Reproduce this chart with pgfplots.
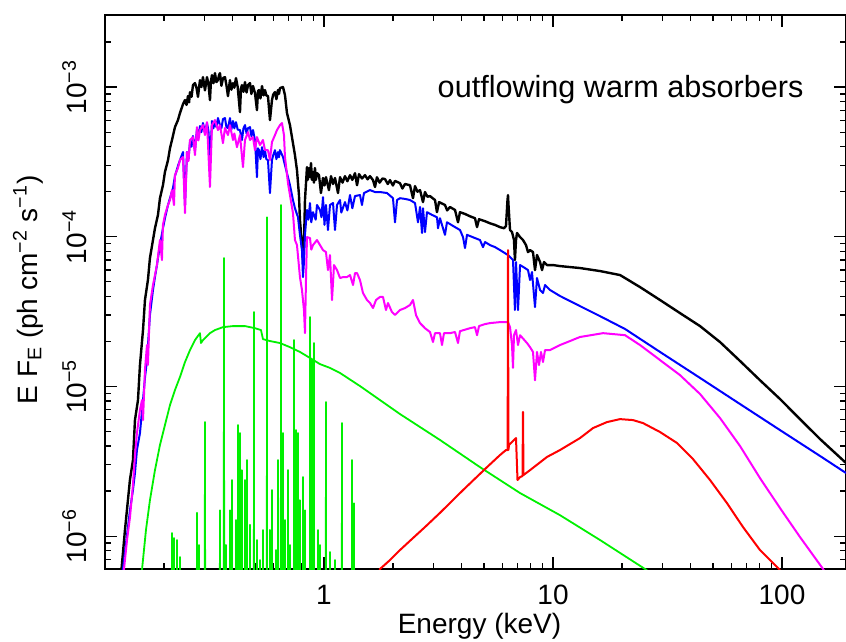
\documentclass[border=0pt]{standalone}
\usepackage{fontspec}
\setmainfont{Liberation Sans}
\usepackage{pgfplots}
\pgfplotsset{compat=1.18}
\usetikzlibrary{calc}
\definecolor{xgreen}{RGB}{0,240,0}
\definecolor{xblue}{RGB}{0,0,255}
\definecolor{xmag}{RGB}{255,0,255}
\definecolor{xred}{RGB}{255,0,0}
\begin{document}
\fontsize{14}{17}\selectfont
\begin{tikzpicture}
\begin{axis}[
 name=ax, at={(0,0)}, anchor=south west,
 scale only axis, width=370.5pt, height=277pt,
 xmode=log, ymode=log,
 xmin=0.1106, xmax=190.3, ymin=6.03e-7, ymax=3.03e-3,
 xtick={1,10,100}, xticklabels={1,10,100},
 ytick={1e-6,1e-5,1e-4,1e-3},
 yticklabels={10\textsuperscript{−6},10\textsuperscript{−5},10\textsuperscript{−4},10\textsuperscript{−3}},
 minor xtick={0.2,0.3,0.4,0.5,0.6,0.7,0.8,0.9,2,3,4,5,6,7,8,9,20,30,40,50,60,70,80,90},
 minor ytick={7e-7,8e-7,9e-7,2e-6,3e-6,4e-6,5e-6,6e-6,7e-6,8e-6,9e-6,2e-5,3e-5,4e-5,5e-5,6e-5,7e-5,8e-5,9e-5,2e-4,3e-4,4e-4,5e-4,6e-4,7e-4,8e-4,9e-4,2e-3,3e-3},
 tick align=inside, major tick length=6pt, minor tick length=3pt,
 tick style={line width=0.6pt, black},
 axis line style={line width=0.7pt},
 xticklabel shift=8pt,
 yticklabel shift=9pt,
 xticklabel style={inner sep=0pt, anchor=north},
 yticklabel style={inner sep=0pt, rotate=90, anchor=south},
 every axis plot/.append style={line join=round},
]
% black: total model
\addplot[black, line width=1.2pt] coordinates {
(0.1248,2.75e-7)(0.1352,1.10e-6)(0.1421,2.37e-6)(0.1465,3.22e-6)(0.1495,5.96e-6)(0.1541,8.11e-6)(0.1572,1.39e-5)(0.1621,2.38e-5)(0.1653,3.78e-5)(0.1703,5.14e-5)(0.1738,7.21e-5)(0.1792,9.51e-5)(0.1828,1.14e-4)(0.1884,1.40e-4)(0.1922,1.81e-4)(0.1981,2.21e-4)(0.2021,2.71e-4)(0.2084,3.25e-4)(0.2126,3.91e-4)(0.2169,4.43e-4)(0.2235,5.40e-4)(0.2303,6.02e-4)(0.2350,6.70e-4)(0.2423,7.70e-4)(0.2472,8.19e-4)(0.2510,7.6e-4)(0.2547,8.71e-4)(0.2575,7.9e-4)(0.2600,9.26e-4)(0.2640,8.6e-4)(0.2679,1.03e-3)(0.2733,1.063e-3)(0.2775,9.9e-4)(0.2817,8.6e-4)(0.2874,1.113e-3)(0.2915,1.0e-3)(0.2962,1.166e-3)(0.3022,9.5e-4)(0.3084,1.166e-3)(0.3130,1.05e-3)(0.3178,8.19e-4)(0.3210,1.10e-3)(0.3243,1.202e-3)(0.3290,1.06e-3)(0.3342,1.240e-3)(0.3390,1.08e-3)(0.3444,1.113e-3)(0.3480,1.20e-3)(0.3514,1.240e-3)(0.3565,1.02e-3)(0.3622,1.148e-3)(0.3695,1.166e-3)(0.3750,1.03e-3)(0.3809,8.7e-4)(0.3886,1.113e-3)(0.3940,9.6e-4)(0.4005,1.063e-3)(0.4060,9.9e-4)(0.4128,1.148e-3)(0.4200,1.0e-3)(0.4297,6.81e-4)(0.4340,9.8e-4)(0.4384,1.031e-3)(0.4450,9.3e-4)(0.4519,1.080e-3)(0.4590,9.2e-4)(0.4658,1.031e-3)(0.4752,1.063e-3)(0.4820,9.0e-4)(0.4898,1.016e-3)(0.4996,9.12e-4)(0.5097,7.02e-4)(0.5150,9.4e-4)(0.5201,9.55e-4)(0.5280,8.4e-4)(0.5362,1.016e-3)(0.5450,8.8e-4)(0.5525,9.55e-4)(0.5600,8.8e-4)(0.5694,8.71e-4)(0.5809,6.02e-4)(0.5927,8.19e-4)(0.6000,8.9e-4)(0.6109,9.26e-4)(0.6200,8.3e-4)(0.6296,9.55e-4)(0.6360,9.0e-4)(0.6424,9.85e-4)(0.6622,1.0e-3)(0.6755,8.84e-4)(0.6894,6.70e-4)(0.7103,5.57e-4)(0.7321,4.22e-4)(0.7469,3.51e-4)(0.7622,2.79e-4)(0.7777,1.90e-4)(0.7854,1.29e-4)(0.8014,8.80e-5)(0.8095,6.99e-5)(0.8177,8.80e-5)(0.8260,1.76e-4)(0.8428,2.92e-4)(0.8500,2.4e-4)(0.8601,2.88e-4)(0.8690,2.5e-4)(0.8776,3.11e-4)(0.8860,2.4e-4)(0.8954,2.71e-4)(0.9040,2.3e-4)(0.9134,2.88e-4)(0.9220,2.4e-4)(0.932,2.66e-4)(0.951,2.58e-4)(0.970,1.96e-4)(0.990,2.47e-4)(1.005,2.2e-4)(1.020,2.50e-4)(1.051,2.05e-4)(1.073,2.54e-4)(1.095,2.25e-4)(1.117,2.47e-4)(1.151,1.96e-4)(1.175,2.50e-4)(1.205,2.3e-4)(1.235,2.54e-4)(1.265,2.35e-4)(1.299,2.58e-4)(1.330,2.4e-4)(1.366,2.66e-4)(1.394,2.21e-4)(1.422,2.62e-4)(1.465,2.45e-4)(1.510,2.58e-4)(1.550,2.42e-4)(1.588,2.54e-4)(1.637,2.39e-4)(1.670,2.15e-4)(1.703,2.50e-4)(1.750,2.3e-4)(1.800,2.45e-4)(1.846,2.43e-4)(1.900,2.25e-4)(1.942,2.39e-4)(2.000,2.2e-4)(2.042,2.36e-4)(2.147,2.28e-4)(2.200,2.1e-4)(2.258,2.25e-4)(2.374,2.21e-4)(2.447,1.81e-4)(2.497,2.18e-4)(2.560,2.0e-4)(2.626,2.05e-4)(2.706,1.705e-4)(2.761,1.99e-4)(2.830,1.85e-4)(2.903,1.87e-4)(3.053,1.76e-4)(3.114,1.46e-4)(3.179,1.705e-4)(3.376,1.63e-4)(3.450,1.5e-4)(3.549,1.58e-4)(3.734,1.51e-4)(3.848,1.25e-4)(3.925,1.46e-4)(4.128,1.42e-4)(4.340,1.37e-4)(4.564,1.33e-4)(4.658,1.16e-4)(4.753,1.31e-4)(5.048,1.27e-4)(5.307,1.23e-4)(5.580,1.20e-4)(5.868,1.16e-4)(6.109,1.14e-4)(6.233,1.18e-4)(6.329,1.76e-4)(6.361,1.90e-4)(6.393,1.63e-4)(6.49,1.11e-4)(6.622,1.075e-4)(6.756,9.51e-5)(6.82,6.99e-5)(6.894,9.51e-5)(6.964,1.06e-4)(7.18,9.95e-5)(7.396,9.51e-5)(7.622,8.80e-5)(7.777,7.90e-5)(7.94,8.15e-5)(8.177,7.90e-5)(8.344,5.99e-5)(8.514,7.55e-5)(8.78,6.78e-5)(8.954,5.99e-5)(9.135,6.78e-5)(9.414,6.47e-5)(10,6.47e-5)(10.73,6.37e-5)(13.12,6.18e-5)(16.04,5.90e-5)(19.62,5.55e-5)(23.99,4.61e-5)(29.33,3.78e-5)(35.86,3.09e-5)(43.85,2.53e-5)(53.61,1.98e-5)(65.55,1.48e-5)(80.15,1.10e-5)(98.0,8.24e-6)(119.8,6.05e-6)(146.6,4.45e-6)(190.3,3.08e-6)
};
% blue: absorbed power law
\addplot[xblue, line width=1pt] coordinates {
(0.1273,2.75e-7)(0.1325,6.03e-7)(0.1380,1.02e-6)(0.1422,1.49e-6)(0.1465,2.03e-6)(0.1495,2.64e-6)(0.1525,3.76e-6)(0.1572,4.88e-6)(0.1621,8.11e-6)(0.1653,1.14e-5)(0.1687,1.50e-5)(0.1738,3.00e-5)(0.1792,4.41e-5)(0.1828,5.38e-5)(0.1865,6.47e-5)(0.1922,8.80e-5)(0.1981,1.14e-4)(0.2021,1.33e-4)(0.2084,1.63e-4)(0.2126,1.81e-4)(0.2191,2.12e-4)(0.2235,2.54e-4)(0.2303,2.97e-4)(0.2350,3.25e-4)(0.2423,3.68e-4)(0.2472,1.63e-4)(0.2522,3.68e-4)(0.2560,3.3e-4)(0.2600,4.29e-4)(0.2640,4.0e-4)(0.2679,4.71e-4)(0.2733,3.79e-4)(0.2789,5.24e-4)(0.2830,4.6e-4)(0.2874,5.49e-4)(0.2915,5.0e-4)(0.2962,5.75e-4)(0.3022,5.00e-4)(0.3084,5.75e-4)(0.3130,5.1e-4)(0.3178,3.25e-4)(0.3243,5.93e-4)(0.3290,5.3e-4)(0.3342,5.93e-4)(0.3390,5.4e-4)(0.3444,6.21e-4)(0.3514,5.57e-4)(0.3565,5.3e-4)(0.3622,6.11e-4)(0.3695,6.21e-4)(0.3750,5.4e-4)(0.3809,5.32e-4)(0.3886,6.21e-4)(0.3940,5.2e-4)(0.4005,5.93e-4)(0.4060,5.3e-4)(0.4128,5.83e-4)(0.4200,5.2e-4)(0.4297,5.16e-4)(0.4384,4.43e-4)(0.4450,5.3e-4)(0.4519,5.57e-4)(0.4590,4.9e-4)(0.4658,5.32e-4)(0.4752,5.40e-4)(0.4820,4.7e-4)(0.4898,5.16e-4)(0.4996,4.43e-4)(0.5097,2.50e-4)(0.5150,3.9e-4)(0.5201,3.79e-4)(0.5280,3.3e-4)(0.5362,3.97e-4)(0.5450,3.4e-4)(0.5525,3.79e-4)(0.5600,3.3e-4)(0.5694,3.25e-4)(0.5809,1.96e-4)(0.5927,3.25e-4)(0.6000,3.5e-4)(0.6109,3.79e-4)(0.6200,3.3e-4)(0.6296,3.68e-4)(0.6360,3.4e-4)(0.6424,3.79e-4)(0.6622,3.41e-4)(0.6755,3.01e-4)(0.6964,2.50e-4)(0.7103,2.21e-4)(0.7321,1.76e-4)(0.7469,1.55e-4)(0.7700,1.35e-4)(0.7854,1.03e-4)(0.8014,8.15e-5)(0.8095,5.38e-5)(0.8177,6.78e-5)(0.8260,1.03e-4)(0.8428,1.51e-4)(0.8550,1.3e-4)(0.8686,1.68e-4)(0.8800,1.25e-4)(0.8954,1.46e-4)(0.9200,1.3e-4)(0.932,1.63e-4)(0.9605,1.51e-4)(0.975,1.35e-4)(0.990,1.84e-4)(1.005,1.2e-4)(1.020,1.63e-4)(1.041,1.11e-4)(1.062,1.63e-4)(1.095,1.68e-4)(1.117,1.11e-4)(1.140,1.63e-4)(1.175,1.76e-4)(1.190,1.45e-4)(1.235,1.705e-4)(1.265,1.5e-4)(1.299,1.90e-4)(1.330,1.55e-4)(1.366,1.87e-4)(1.436,1.90e-4)(1.465,1.63e-4)(1.495,1.96e-4)(1.588,2.05e-4)(1.670,1.99e-4)(1.756,1.99e-4)(1.884,1.96e-4)(2.001,1.81e-4)(2.042,1.25e-4)(2.084,1.76e-4)(2.147,1.81e-4)(2.258,1.79e-4)(2.374,1.76e-4)(2.497,1.68e-4)(2.573,1.25e-4)(2.626,1.58e-4)(2.679,1.06e-4)(2.706,1.55e-4)(2.761,1.075e-4)(2.817,1.46e-4)(2.962,1.40e-4)(3.114,1.35e-4)(3.147,1.14e-4)(3.210,1.33e-4)(3.376,1.03e-4)(3.444,1.25e-4)(3.734,1.16e-4)(3.925,1.11e-4)(4.046,9.95e-5)(4.128,8.40e-5)(4.212,1.03e-4)(4.564,9.80e-5)(4.799,9.51e-5)(4.947,8.53e-5)(5.048,9.22e-5)(5.307,8.80e-5)(5.580,8.53e-5)(5.868,8.15e-5)(6.361,7.55e-5)(6.688,6.99e-5)(6.82,3.24e-5)(6.894,6.78e-5)(7.035,3.24e-5)(7.18,6.47e-5)(7.546,6.18e-5)(7.777,5.99e-5)(7.94,5.14e-5)(8.095,5.81e-5)(8.344,3.39e-5)(8.514,5.30e-5)(8.78,4.41e-5)(9.043,4.21e-5)(9.23,4.76e-5)(9.703,4.41e-5)(10.73,4.02e-5)(13.12,3.44e-5)(16.04,2.95e-5)(20.63,2.42e-5)(29.33,1.70e-5)(43.85,1.14e-5)(65.55,7.63e-6)(98.0,5.11e-6)(146.6,3.43e-6)(190.3,2.64e-6)
};
% magenta: reflection
\addplot[xmag, line width=1pt] coordinates {
(0.1299,2.75e-7)(0.1339,6.03e-7)(0.1380,9.42e-7)(0.1422,1.34e-6)(0.1465,2.2e-6)(0.1495,3.48e-6)(0.1525,4.88e-6)(0.1572,6.96e-6)(0.1604,8.11e-6)(0.1621,5.96e-6)(0.1653,1.29e-5)(0.1687,1.89e-5)(0.1703,1.39e-5)(0.1738,3.50e-5)(0.1792,4.76e-5)(0.1828,5.55e-5)(0.1865,6.47e-5)(0.1922,9.51e-5)(0.1961,6.99e-5)(0.1981,1.20e-4)(0.2021,1.40e-4)(0.2084,1.63e-4)(0.2126,1.76e-4)(0.2169,2.05e-4)(0.2213,1.63e-4)(0.2235,2.58e-4)(0.2303,2.88e-4)(0.2350,3.25e-4)(0.2423,3.41e-4)(0.2472,1.44e-4)(0.2522,3.68e-4)(0.2560,3.2e-4)(0.2600,4.43e-4)(0.2679,4.63e-4)(0.2733,3.51e-4)(0.2789,5.40e-4)(0.2830,4.4e-4)(0.2874,5.16e-4)(0.2962,5.57e-4)(0.3022,4.78e-4)(0.3084,5.83e-4)(0.3178,2.15e-4)(0.3243,5.57e-4)(0.3342,6.02e-4)(0.3444,5.16e-4)(0.3514,5.57e-4)(0.3622,4.22e-4)(0.3695,5.32e-4)(0.3809,4.78e-4)(0.3886,5.57e-4)(0.4005,4.43e-4)(0.4060,4.9e-4)(0.4169,3.97e-4)(0.4297,4.78e-4)(0.4429,2.92e-4)(0.4519,4.43e-4)(0.4658,5.00e-4)(0.4752,4.43e-4)(0.4898,4.63e-4)(0.4996,3.79e-4)(0.5097,4.63e-4)(0.5254,4.10e-4)(0.5415,4.43e-4)(0.5525,3.79e-4)(0.5694,3.79e-4)(0.5809,3.25e-4)(0.5927,4.29e-4)(0.6109,4.78e-4)(0.6233,5.16e-4)(0.6424,5.57e-4)(0.6555,5.75e-4)(0.6688,4.78e-4)(0.6755,3.41e-4)(0.6964,2.28e-4)(0.7103,1.90e-4)(0.7321,1.44e-4)(0.7469,9.51e-5)(0.7622,8.80e-5)(0.7854,5.38e-5)(0.8014,4.41e-5)(0.8177,3.24e-5)(0.8260,2.27e-5)(0.8344,5.14e-5)(0.8428,9.95e-5)(0.8686,9.80e-5)(0.8800,8.2e-5)(0.8954,8.80e-5)(0.932,9.51e-5)(0.9605,8.80e-5)(0.990,8.15e-5)(1.020,7.90e-5)(1.041,5.99e-5)(1.062,7.55e-5)(1.084,3.78e-5)(1.106,6.47e-5)(1.140,5.99e-5)(1.175,5.30e-5)(1.211,5.38e-5)(1.260,5.38e-5)(1.299,5.55e-5)(1.339,4.76e-5)(1.366,5.72e-5)(1.394,5.72e-5)(1.436,5.14e-5)(1.480,4.21e-5)(1.541,3.78e-5)(1.588,3.61e-5)(1.637,3.34e-5)(1.687,3.78e-5)(1.756,3.96e-5)(1.810,3.96e-5)(1.865,3.24e-5)(1.903,3.61e-5)(1.981,3.14e-5)(2.042,3.00e-5)(2.147,3.24e-5)(2.258,3.34e-5)(2.374,3.50e-5)(2.447,3.78e-5)(2.522,3.00e-5)(2.626,2.65e-5)(2.761,2.45e-5)(2.903,2.31e-5)(2.992,1.98e-5)(3.053,2.27e-5)(3.210,2.27e-5)(3.276,1.89e-5)(3.342,2.27e-5)(3.549,2.27e-5)(3.734,2.31e-5)(3.848,1.95e-5)(3.925,2.34e-5)(4.340,2.45e-5)(4.564,2.49e-5)(4.658,2.20e-5)(4.753,2.53e-5)(5.048,2.61e-5)(5.307,2.65e-5)(5.868,2.69e-5)(6.361,2.69e-5)(6.49,2.49e-5)(6.622,1.89e-5)(6.688,1.33e-5)(6.756,2.20e-5)(6.894,2.38e-5)(7.035,1.89e-5)(7.18,2.20e-5)(7.699,1.95e-5)(7.94,1.83e-5)(8.177,1.70e-5)(8.344,1.10e-5)(8.514,1.70e-5)(8.688,1.39e-5)(8.864,1.70e-5)(9.043,1.455e-5)(9.23,1.75e-5)(9.703,1.75e-5)(10.73,1.89e-5)(13.12,2.14e-5)(16.54,2.27e-5)(20.63,2.20e-5)(23.99,1.89e-5)(29.33,1.50e-5)(35.86,1.19e-5)(43.85,8.90e-6)(53.61,6.15e-6)(65.55,4.00e-6)(80.15,2.44e-6)(98.0,1.54e-6)(119.8,9.86e-7)(151.1,6.03e-7)(170.4,4.36e-7)
};
% green: soft continuum
\addplot[xgreen, line width=0.9pt] coordinates {
(0.1588,5.09e-7)(0.1670,1.10e-6)(0.1738,1.74e-6)(0.1828,2.76e-6)(0.1922,4.06e-6)(0.2021,5.52e-6)(0.2126,7.51e-6)(0.2235,9.46e-6)(0.2350,1.156e-5)(0.2472,1.455e-5)(0.2600,1.75e-5)(0.2733,2.04e-5)(0.2874,2.27e-5)(0.2903,1.95e-5)(0.2962,2.04e-5)(0.3084,2.17e-5)(0.3178,2.27e-5)(0.3342,2.38e-5)(0.3622,2.49e-5)(0.4005,2.53e-5)(0.4519,2.53e-5)(0.4996,2.45e-5)(0.5307,2.38e-5)(0.5415,2.07e-5)(0.5809,2.01e-5)(0.6424,1.95e-5)(0.7103,1.83e-5)(0.7854,1.70e-5)(0.8686,1.55e-5)(0.9605,1.41e-5)(1.062,1.33e-5)(1.175,1.23e-5)(1.436,1.006e-5)(1.756,8.11e-6)(2.147,6.54e-6)(3.210,4.39e-6)(4.799,2.89e-6)(7.18,1.94e-6)(10.73,1.38e-6)(16.04,9.42e-7)(25.22,6.03e-7)(29.33,5.09e-7)
};
% green: emission lines
\addplot[xgreen, line width=0.9pt] coordinates {
(0.2161,1e-7)(0.2169,1.05e-6)(0.2177,1e-7)
(0.2205,1e-7)(0.2213,9.71e-7)(0.2221,1e-7)
(0.2273,1e-7)(0.2281,9.42e-7)(0.2289,1e-7)
(0.2342,1e-7)(0.2350,7.25e-7)(0.2358,1e-7)
(0.2781,1e-7)(0.2789,1.43e-6)(0.2797,1e-7)
(0.2838,1e-7)(0.2846,8.72e-7)(0.2854,1e-7)
(0.3014,1e-7)(0.3022,5.78e-6)(0.3030,1e-7)
(0.3506,1e-7)(0.3514,1.49e-6)(0.3522,1e-7)
(0.3651,1e-7)(0.3659,7.21e-5)(0.3667,1e-7)
(0.3726,1e-7)(0.3734,8.72e-7)(0.3742,1e-7)
(0.3878,1e-7)(0.3886,1.49e-6)(0.3894,1e-7)
(0.3958,1e-7)(0.3966,2.37e-6)(0.3974,1e-7)
(0.4120,1e-7)(0.4128,1.28e-6)(0.4136,1e-7)
(0.4204,1e-7)(0.4212,5.52e-6)(0.4220,1e-7)
(0.4289,1e-7)(0.4297,4.88e-6)(0.4305,1e-7)
(0.4376,1e-7)(0.4384,2.76e-6)(0.4392,1e-7)
(0.4511,1e-7)(0.4519,2.37e-6)(0.4527,1e-7)
(0.4603,1e-7)(0.4611,3.22e-6)(0.4619,1e-7)
(0.4744,1e-7)(0.4752,1.19e-6)(0.4760,1e-7)
(0.4939,1e-7)(0.4947,3.14e-5)(0.4955,1e-7)
(0.5089,1e-7)(0.5097,9.42e-7)(0.5105,1e-7)
(0.5246,1e-7)(0.5254,6.92e-7)(0.5262,1e-7)
(0.5407,1e-7)(0.5415,1.10e-6)(0.5423,1e-7)
(0.5629,1e-7)(0.5637,1.35e-4)(0.5645,1e-7)
(0.5801,1e-7)(0.5809,1.10e-6)(0.5817,1e-7)
(0.5919,1e-7)(0.5927,2.03e-6)(0.5935,1e-7)
(0.6163,1e-7)(0.6171,8.07e-7)(0.6179,1e-7)
(0.6288,1e-7)(0.6296,3.22e-6)(0.6304,1e-7)
(0.6481,1e-7)(0.6489,1.63e-4)(0.6497,1e-7)
(0.6614,1e-7)(0.6622,4.88e-6)(0.6630,1e-7)
(0.6747,1e-7)(0.6755,1.28e-6)(0.6763,1e-7)
(0.6956,1e-7)(0.6964,2.76e-6)(0.6972,1e-7)
(0.7095,1e-7)(0.7103,8.72e-7)(0.7111,1e-7)
(0.7388,1e-7)(0.7396,2.04e-5)(0.7404,1e-7)
(0.7538,1e-7)(0.7546,5.11e-6)(0.7554,1e-7)
(0.7692,1e-7)(0.7700,4.88e-6)(0.7708,1e-7)
(0.7846,1e-7)(0.7854,1.74e-6)(0.7862,1e-7)
(0.8087,1e-7)(0.8095,2.48e-6)(0.8103,1e-7)
(0.8252,1e-7)(0.8260,1.49e-6)(0.8268,1e-7)
(0.8678,1e-7)(0.8686,2.91e-5)(0.8694,1e-7)
(0.8856,1e-7)(0.8864,1.50e-5)(0.8872,1e-7)
(0.9035,1e-7)(0.9043,1.95e-5)(0.9051,1e-7)
(0.9407,1e-7)(0.9415,1.10e-6)(0.9423,1e-7)
(0.9597,1e-7)(0.9605,8.72e-7)(0.9613,1e-7)
(1.018,1e-7)(1.020,7.87e-6)(1.022,1e-7)
(1.060,1e-7)(1.062,7.83e-7)(1.064,1e-7)
(1.115,1e-7)(1.117,6.92e-7)(1.119,1e-7)
(1.196,1e-7)(1.198,5.69e-6)(1.200,1e-7)
(1.323,1e-7)(1.325,3.22e-6)(1.327,1e-7)
(1.350,1e-7)(1.352,1.66e-6)(1.354,1e-7)
};
% red: Fe K reflection
\addplot[xred, line width=1pt] coordinates {
(1.721,4.36e-7)(1.756,6.03e-7)(1.942,6.92e-7)(2.147,8.07e-7)(2.447,9.71e-7)(2.761,1.15e-6)(3.210,1.43e-6)(4.046,2.03e-6)(5.150,2.89e-6)(5.868,3.48e-6)(6.233,3.76e-6)(6.338,3.76e-6)(6.361,8.15e-5)(6.387,3.76e-6)(6.425,4.06e-6)(6.894,4.52e-6)(6.998,2.37e-6)(7.18,2.48e-6)(7.359,2.52e-6)(7.396,6.75e-6)(7.433,2.56e-6)(7.94,2.76e-6)(9.414,3.38e-6)(10.73,3.76e-6)(13.12,4.52e-6)(14.95,5.27e-6)(17.21,5.78e-6)(19.62,6.05e-6)(22.35,5.96e-6)(24.72,5.69e-6)(29.33,4.96e-6)(34.79,4.19e-6)(40.87,3.27e-6)(48.49,2.37e-6)(57.52,1.66e-6)(67.55,1.15e-6)(80.15,8.07e-7)(97.03,6.03e-7)(103.1,5.09e-7)
};
\end{axis}
\node[anchor=base] at ($(ax.south)+(2pt,-32pt)$) {Energy (keV)};
\node[rotate=90, anchor=base] at ($(ax.west)+(-34pt,1pt)$) {E F\textsubscript{E} (ph cm\textsuperscript{−2} s\textsuperscript{−1})};
\node[anchor=base west, font=\fontsize{15.3}{18}\selectfont] at ($(ax.north west)+(161.5pt,-41pt)$) {outflowing warm absorbers};
\pgfresetboundingbox
\path[use as bounding box] ($(ax.south west)+(-52.5pt,-36.5pt)$) rectangle ($(ax.north east)+(0pt,7.5pt)$);
\end{tikzpicture}
\end{document}
